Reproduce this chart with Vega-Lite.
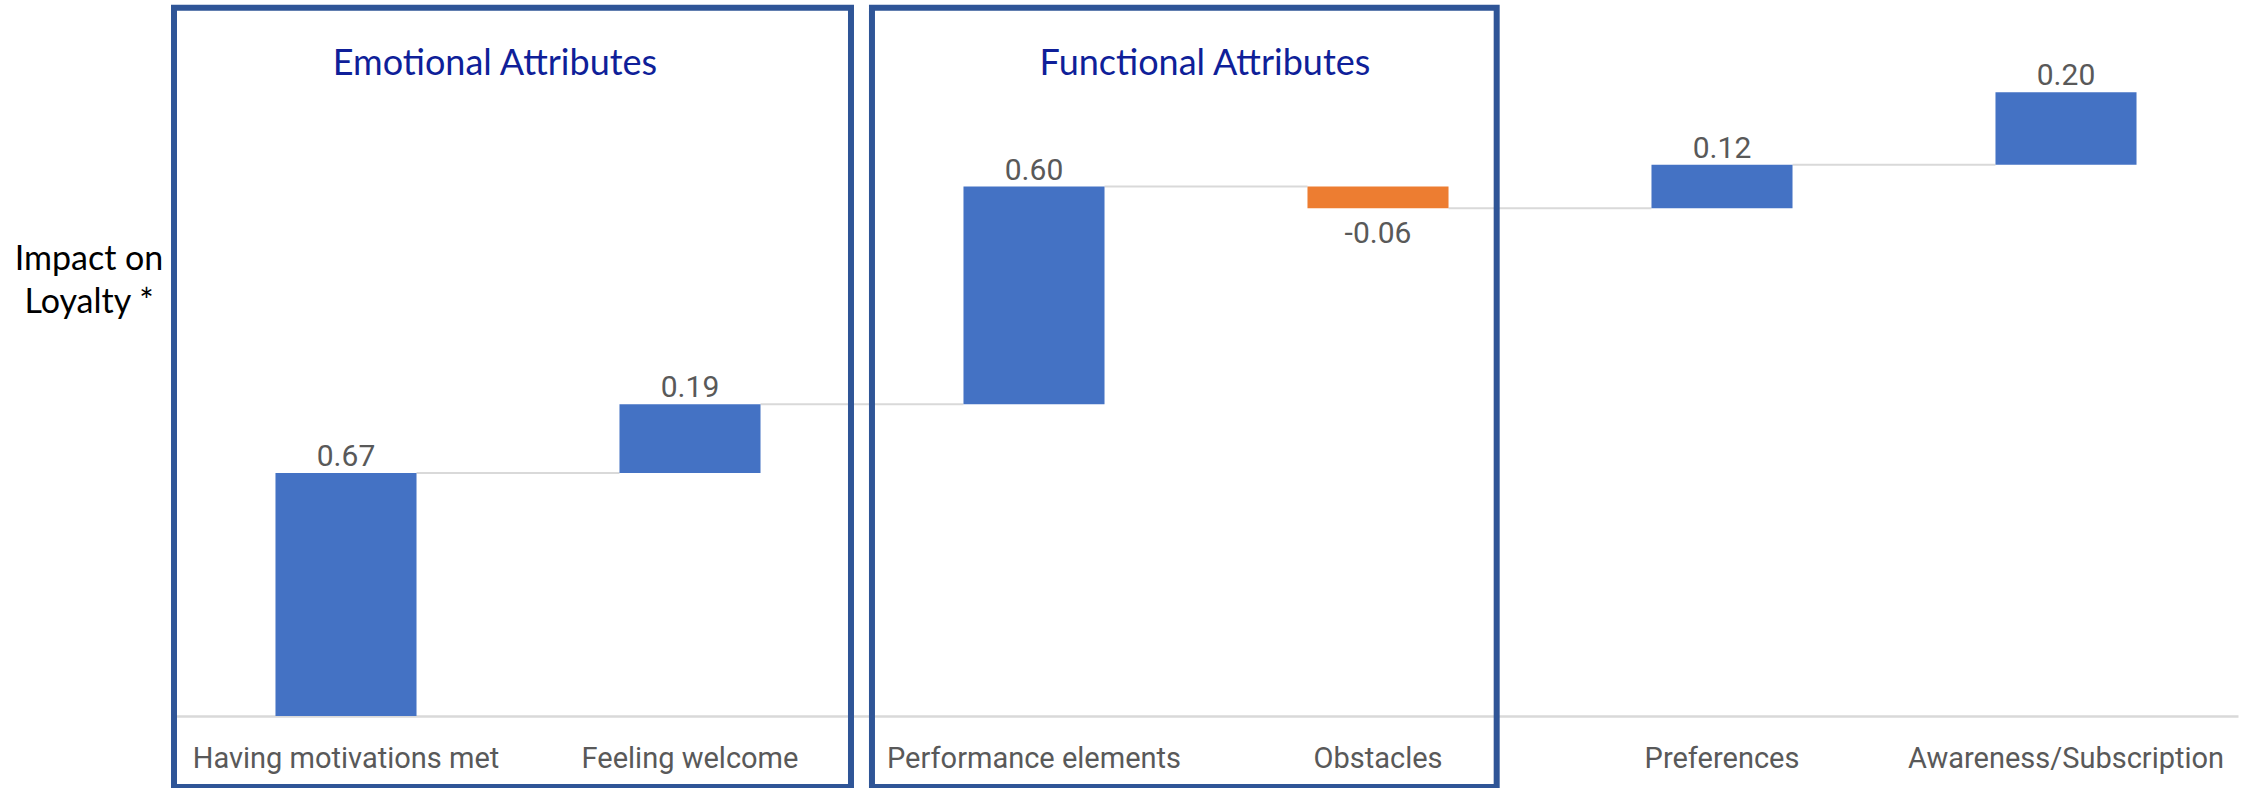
{
  "$schema": "https://vega.github.io/schema/vega-lite/v6.json",
  "width": 2064,
  "height": 689,
  "autosize": {"type": "none"},
  "padding": {"left": 174, "top": 27, "right": 13, "bottom": 72},
  "background": "white",
  "config": {"view": {"stroke": null}},
  "datasets": {
    "steps": [
      {"attribute": "Having motivations met", "value": 0.67, "label": "0.67", "start": 0, "end": 0.67, "next": "Feeling welcome", "sign": "increase"},
      {"attribute": "Feeling welcome", "value": 0.19, "label": "0.19", "start": 0.67, "end": 0.86, "next": "Performance elements", "sign": "increase"},
      {"attribute": "Performance elements", "value": 0.6, "label": "0.60", "start": 0.86, "end": 1.46, "next": "Obstacles", "sign": "increase"},
      {"attribute": "Obstacles", "value": -0.06, "label": "-0.06", "start": 1.46, "end": 1.4, "next": "Preferences", "sign": "decrease"},
      {"attribute": "Preferences", "value": 0.12, "label": "0.12", "start": 1.4, "end": 1.52, "next": "Awareness/Subscription", "sign": "increase"},
      {"attribute": "Awareness/Subscription", "value": 0.2, "label": "0.20", "start": 1.52, "end": 1.72, "next": null, "sign": "increase"}
    ],
    "groups": [
      {"group": "Emotional Attributes", "from": 0, "to": 1.968, "bottom": -0.196, "top": 1.953, "titleAt": 0.933, "titleLevel": 1.768},
      {"group": "Functional Attributes", "from": 2.029, "to": 3.845, "bottom": -0.196, "top": 1.953, "titleAt": 2.997, "titleLevel": 1.768}
    ],
    "measure": [
      {"line": "Impact on", "at": -0.247, "level": 1.23},
      {"line": "Loyalty *", "at": -0.247, "level": 1.111}
    ]
  },
  "layer": [
    {
      "data": {"name": "steps"},
      "encoding": {
        "x": {
          "field": "attribute",
          "type": "nominal",
          "sort": ["Having motivations met", "Feeling welcome", "Performance elements", "Obstacles", "Preferences", "Awareness/Subscription"],
          "scale": {"paddingInner": 0.59, "paddingOuter": 0.295},
          "axis": {
            "title": null,
            "labelAngle": 0,
            "labelFont": "Roboto",
            "labelFontSize": 29,
            "labelColor": "#595959",
            "labelBaseline": "alphabetic",
            "labelPadding": 51,
            "labelLimit": 0,
            "ticks": false,
            "tickSize": 0,
            "domainColor": "#D9D9D9",
            "domainWidth": 2.5,
            "grid": false
          }
        }
      },
      "layer": [
        {
          "transform": [{"filter": "datum.next != null"}],
          "mark": {"type": "rule", "color": "#D9D9D9", "strokeWidth": 2},
          "encoding": {
            "x": {"field": "attribute", "type": "nominal", "bandPosition": 1},
            "x2": {"field": "next", "bandPosition": 0},
            "y": {"field": "end", "type": "quantitative", "scale": {"domain": [0, 1.9], "nice": false, "zero": true}, "axis": null}
          }
        },
        {
          "mark": {"type": "bar"},
          "encoding": {
            "y": {"field": "start", "type": "quantitative", "scale": {"domain": [0, 1.9], "nice": false, "zero": true}, "axis": null},
            "y2": {"field": "end"},
            "color": {
              "field": "sign",
              "type": "nominal",
              "scale": {"domain": ["increase", "decrease"], "range": ["#4472C4", "#ED7D31"]},
              "legend": null
            }
          }
        },
        {
          "transform": [{"filter": "datum.value >= 0"}],
          "mark": {"type": "text", "font": "Roboto", "fontSize": 30, "color": "#595959", "baseline": "alphabetic", "dy": -7},
          "encoding": {
            "y": {"field": "end", "type": "quantitative", "scale": {"domain": [0, 1.9], "nice": false, "zero": true}, "axis": null},
            "text": {"field": "label"}
          }
        },
        {
          "transform": [{"filter": "datum.value < 0"}],
          "mark": {"type": "text", "font": "Roboto", "fontSize": 30, "color": "#595959", "baseline": "alphabetic", "dy": 35},
          "encoding": {
            "y": {"field": "end", "type": "quantitative", "scale": {"domain": [0, 1.9], "nice": false, "zero": true}, "axis": null},
            "text": {"field": "label"}
          }
        }
      ]
    },
    {
      "layer": [
        {
          "data": {"name": "groups"},
          "mark": {"type": "rect", "fillOpacity": 0, "stroke": "#2F5597", "strokeWidth": 6},
          "encoding": {
            "x": {"field": "from", "type": "quantitative", "scale": {"domain": [0, 6], "nice": false, "zero": false}, "axis": null},
            "x2": {"field": "to"},
            "y": {"field": "bottom", "type": "quantitative", "scale": {"domain": [0, 1.9], "nice": false, "zero": true}, "axis": null},
            "y2": {"field": "top"}
          }
        },
        {
          "data": {"name": "groups"},
          "mark": {"type": "text", "font": "Lato", "fontSize": 36, "color": "#0F1F99", "baseline": "alphabetic", "align": "center"},
          "encoding": {
            "x": {"field": "titleAt", "type": "quantitative", "scale": {"domain": [0, 6], "nice": false, "zero": false}, "axis": null},
            "y": {"field": "titleLevel", "type": "quantitative", "scale": {"domain": [0, 1.9], "nice": false, "zero": true}, "axis": null},
            "text": {"field": "group"}
          }
        },
        {
          "data": {"name": "measure"},
          "mark": {"type": "text", "font": "Lato", "fontSize": 34, "color": "#000000", "baseline": "alphabetic", "align": "center"},
          "encoding": {
            "x": {"field": "at", "type": "quantitative", "scale": {"domain": [0, 6], "nice": false, "zero": false}, "axis": null},
            "y": {"field": "level", "type": "quantitative", "scale": {"domain": [0, 1.9], "nice": false, "zero": true}, "axis": null},
            "text": {"field": "line"}
          }
        }
      ]
    }
  ],
  "resolve": {"scale": {"x": "independent"}, "axis": {"x": "independent"}}
}
